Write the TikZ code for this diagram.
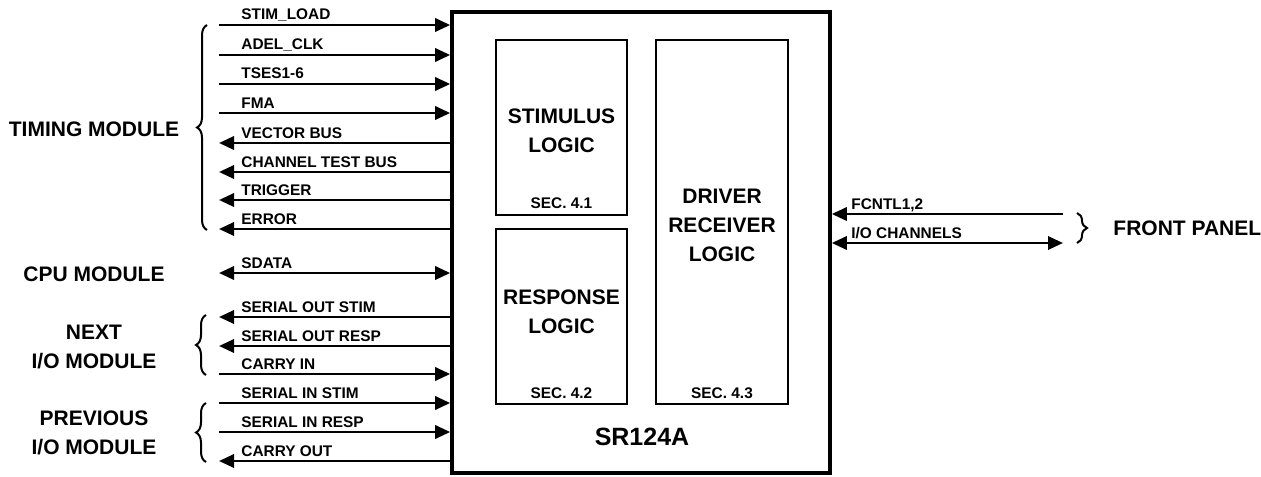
\documentclass[tikz,border=0pt]{standalone}
\usepackage{fontspec}
\setmainfont{Liberation Sans}
\usetikzlibrary{arrows.meta,fit,decorations.pathreplacing}

\tikzset{
  sigline/.style={line width=1.35pt},
  tosr/.style={sigline, -{Triangle[length=7.5pt,width=6.6pt]}},
  fromsr/.style={sigline, {Triangle[length=7.5pt,width=6.6pt]}-},
  bothsr/.style={sigline, {Triangle[length=7.5pt,width=6.6pt]}-{Triangle[length=7.5pt,width=6.6pt]}},
  siglabel/.style={anchor=base west, inner sep=0pt, font=\fontsize{7.7}{9}\selectfont\bfseries},
  modlabel/.style={align=center, inner sep=0pt, font=\fontsize{10.5}{14.5}\selectfont\bfseries},
  blocktxt/.style={align=center, inner sep=0pt, font=\fontsize{10.5}{14.5}\selectfont\bfseries},
  sectxt/.style={inner sep=0pt, font=\fontsize{7.7}{9}\selectfont\bfseries},
  mainbox/.style={draw, line width=1.8pt, inner sep=0pt},
  logicbox/.style={draw, line width=1.1pt, inner sep=0pt},
  grpbrace/.style={decorate, decoration={brace, amplitude=5pt}, line width=1pt},
}

\begin{document}
\begin{tikzpicture}[x=0.5pt, y=-0.5pt]
\useasboundingbox (0,0) rectangle (1261,476);

% boxes
\node [mainbox, fit={(452,12) (830,473)}] (sr) {};
\node [logicbox, fit={(496,40) (627,215)}] (stim) {};
\node [logicbox, fit={(496,229) (627,404)}] (resp) {};
\node [logicbox, fit={(656,40) (788,404)}] (drv) {};
\node [blocktxt] (stimtxt) at (561.5,130.5) {STIMULUS\\LOGIC};
\node [sectxt] (stimsec) at (561.5,203) {SEC. 4.1};
\node [blocktxt] (resptxt) at (561.5,311.5) {RESPONSE\\LOGIC};
\node [sectxt] (respsec) at (561.5,393) {SEC. 4.2};
\node [blocktxt] (drvtxt) at (722,225) {DRIVER\\RECEIVER\\LOGIC};
\node [sectxt] (drvsec) at (722,393) {SEC. 4.3};
\node [inner sep=0pt, font=\fontsize{12.5}{15}\selectfont\bfseries] (srname) at (642,437) {SR124A};

% left side signals
\coordinate (t1) at (219,25);
\coordinate (t2) at (219,55);
\coordinate (t3) at (219,84);
\coordinate (t4) at (219,113);
\coordinate (t5) at (219,143);
\coordinate (t6) at (219,172);
\coordinate (t7) at (219,200);
\coordinate (t8) at (219,229);
\coordinate (c1) at (219,273);
\coordinate (n1) at (219,317);
\coordinate (n2) at (219,346);
\coordinate (n3) at (219,374);
\coordinate (p1) at (219,403);
\coordinate (p2) at (219,432);
\coordinate (p3) at (219,461);
\draw [tosr] (t1) -- (t1 -| sr.west);
\draw [tosr] (t2) -- (t2 -| sr.west);
\draw [tosr] (t3) -- (t3 -| sr.west);
\draw [tosr] (t4) -- (t4 -| sr.west);
\draw [fromsr] (t5) -- (t5 -| sr.west);
\draw [fromsr] (t6) -- (t6 -| sr.west);
\draw [fromsr] (t7) -- (t7 -| sr.west);
\draw [fromsr] (t8) -- (t8 -| sr.west);
\draw [bothsr] (c1) -- (c1 -| sr.west);
\draw [fromsr] (n1) -- (n1 -| sr.west);
\draw [fromsr] (n2) -- (n2 -| sr.west);
\draw [tosr] (n3) -- (n3 -| sr.west);
\draw [tosr] (p1) -- (p1 -| sr.west);
\draw [tosr] (p2) -- (p2 -| sr.west);
\draw [fromsr] (p3) -- (p3 -| sr.west);
\node [siglabel] (lt1) at (241,20) {STIM\_LOAD};
\node [siglabel] (lt2) at (241,50) {ADEL\_CLK};
\node [siglabel] (lt3) at (241,79) {TSES1-6};
\node [siglabel] (lt4) at (241,108) {FMA};
\node [siglabel] (lt5) at (241,138) {VECTOR BUS};
\node [siglabel] (lt6) at (241,167) {CHANNEL TEST BUS};
\node [siglabel] (lt7) at (241,195) {TRIGGER};
\node [siglabel] (lt8) at (241,224) {ERROR};
\node [siglabel] (lc1) at (241,268) {SDATA};
\node [siglabel] (ln1) at (241,312) {SERIAL OUT STIM};
\node [siglabel] (ln2) at (241,341) {SERIAL OUT RESP};
\node [siglabel] (ln3) at (241,369) {CARRY IN};
\node [siglabel] (lp1) at (241,398) {SERIAL IN STIM};
\node [siglabel] (lp2) at (241,427) {SERIAL IN RESP};
\node [siglabel] (lp3) at (241,456) {CARRY OUT};

% module groups
\draw [grpbrace] (207,230) -- (207,25);
\draw [grpbrace] (206,375) -- (206,315);
\draw [grpbrace] (206,462) -- (206,403);
\node [modlabel] (timing) at (94,129.5) {TIMING MODULE};
\node [modlabel] (cpu) at (94,274) {CPU MODULE};
\node [modlabel] (next) at (94,347) {NEXT\\I/O MODULE};
\node [modlabel] (prev) at (94,432.5) {PREVIOUS\\I/O MODULE};

% front panel
\coordinate (f1) at (1063,214);
\coordinate (f2) at (1063,243);
\draw [tosr] (f1) -- (f1 -| sr.east);
\draw [bothsr] (f2) -- (f2 -| sr.east);
\node [siglabel] (lf1) at (851,209) {FCNTL1,2};
\node [siglabel] (lf2) at (851,238) {I/O CHANNELS};
\draw [grpbrace] (1077,213) -- (1077,243);
\node [modlabel, anchor=west] (front) at (1113,228) {FRONT PANEL};
\end{tikzpicture}
\end{document}
